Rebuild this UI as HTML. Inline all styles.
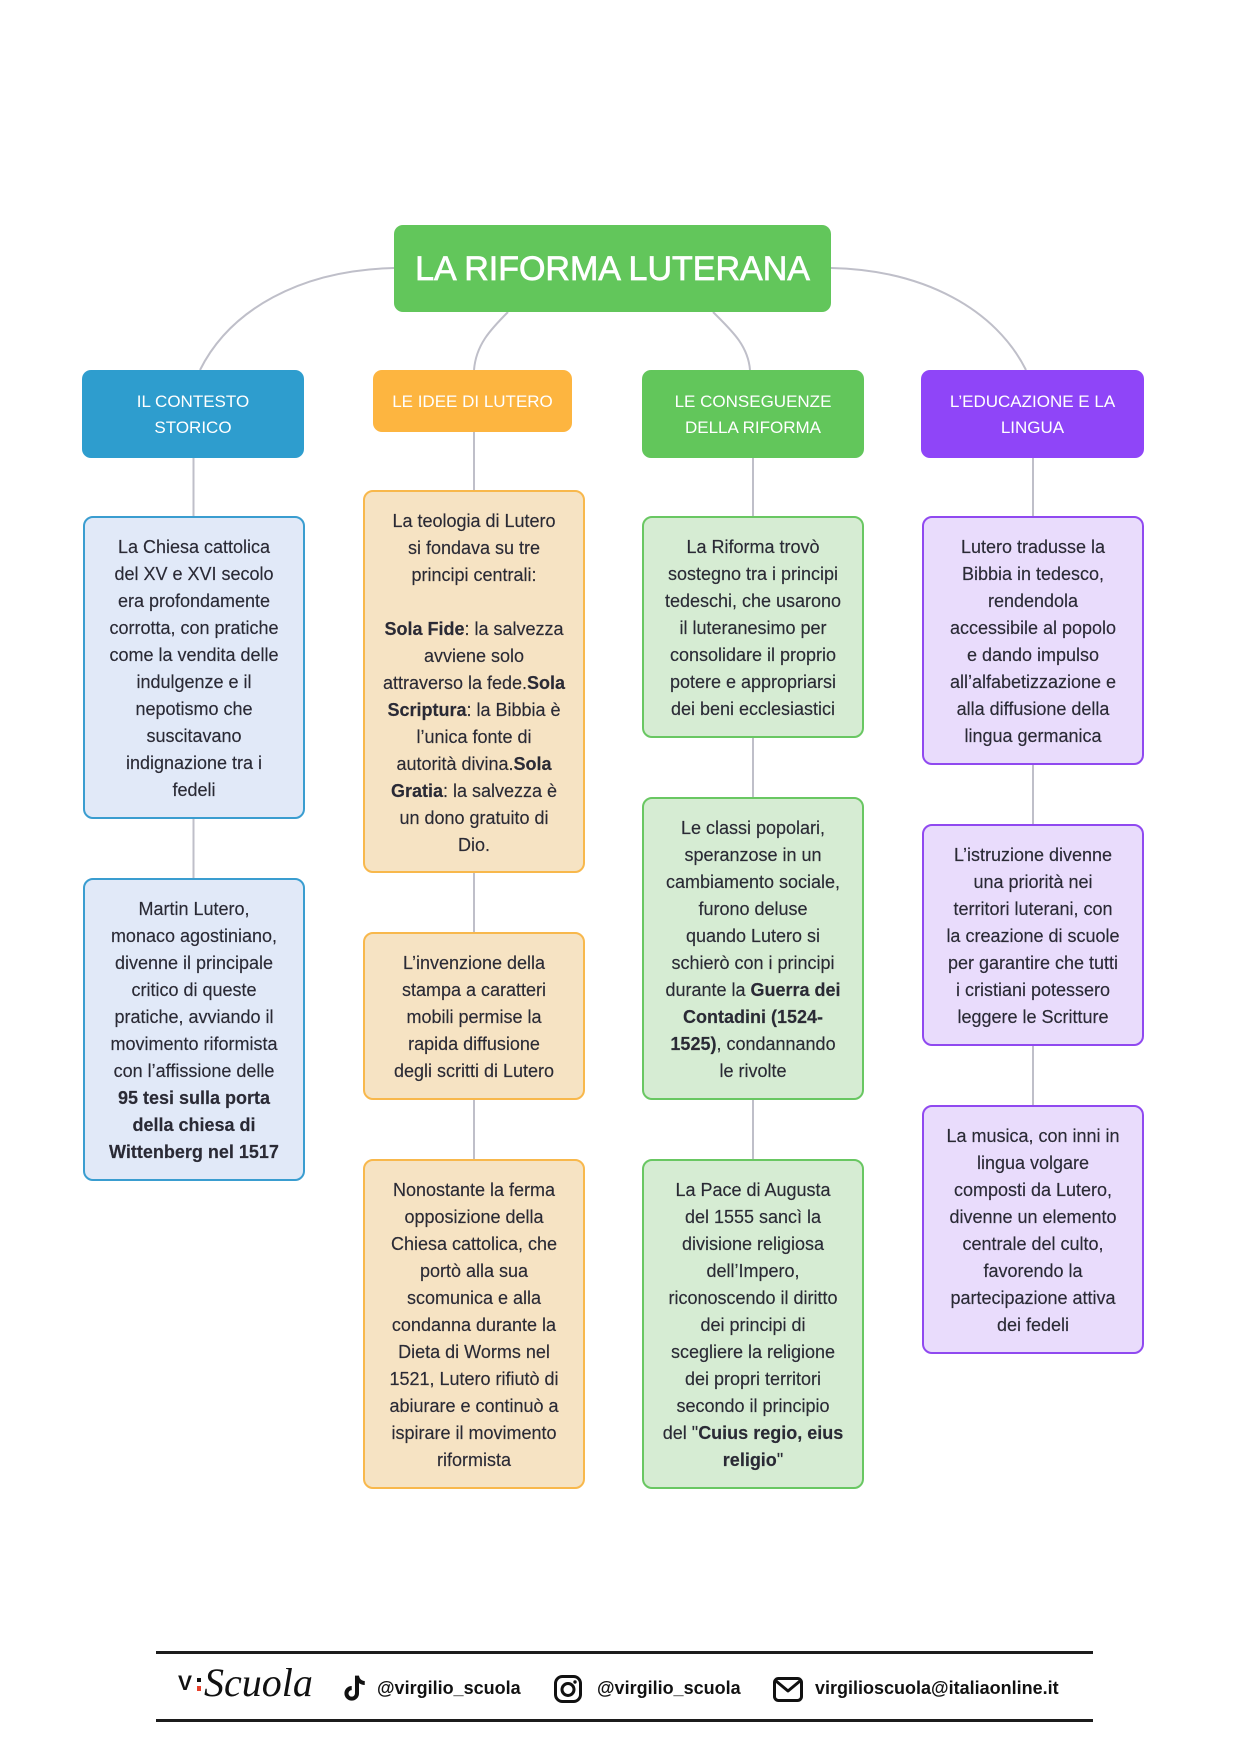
<!DOCTYPE html>
<html>
<head>
<meta charset="utf-8">
<style>
  html,body{margin:0;padding:0;background:#fff;}
  body{width:1240px;height:1754px;position:relative;overflow:hidden;font-family:"Liberation Sans",Arial,sans-serif;}
  .root{position:absolute;left:394px;top:225px;width:437px;height:87px;background:#62c65b;border-radius:9px;color:#fff;font-size:34px;display:flex;align-items:center;justify-content:center;white-space:nowrap;-webkit-text-stroke:0.7px #fff;padding-top:1px;box-sizing:border-box;}
  .cat{position:absolute;top:370px;border-radius:9px;color:#fff;font-size:17px;line-height:26.5px;display:flex;align-items:center;justify-content:center;text-align:center;white-space:nowrap;padding-top:2px;box-sizing:border-box;}
  .box{position:absolute;width:222px;box-sizing:border-box;border:2.5px solid;border-radius:10px;padding-top:15.5px;text-align:center;font-size:18px;line-height:27px;color:#2a2a35;white-space:nowrap;-webkit-text-stroke:0.15px #2a2a35;}
  .b{border-color:#3a9dd0;background:#e1e9f8;}
  .o{border-color:#f8b84c;background:#f6e3c3;}
  .g{border-color:#69c762;background:#d6ecd3;}
  .p{border-color:#9049f0;background:#e9dcfc;}
  .box strong{font-weight:bold;}
  .ft{position:absolute;top:1677px;font-size:18px;line-height:22px;font-weight:bold;color:#111;white-space:nowrap;}
  .hr{position:absolute;left:156px;width:937px;height:3px;background:#1c1c1c;}
</style>
</head>
<body>

<svg width="1240" height="1754" style="position:absolute;left:0;top:0" xmlns="http://www.w3.org/2000/svg">
  <g fill="none" stroke="#bfbfc9" stroke-width="2">
    <path d="M394,268 C300,270 230,310 200,370"/>
    <path d="M508,312 C490,330 476,345 474,370"/>
    <path d="M713,312 C731,330 748,345 750,370"/>
    <path d="M831,268 C925,270 996,310 1026,370"/>
    <line x1="193.5" y1="458" x2="193.5" y2="516"/>
    <line x1="193.5" y1="819" x2="193.5" y2="878"/>
    <line x1="474" y1="432" x2="474" y2="490"/>
    <line x1="474" y1="873" x2="474" y2="932"/>
    <line x1="474" y1="1100" x2="474" y2="1159"/>
    <line x1="753" y1="458" x2="753" y2="516"/>
    <line x1="753" y1="738" x2="753" y2="797"/>
    <line x1="753" y1="1100" x2="753" y2="1159"/>
    <line x1="1033" y1="458" x2="1033" y2="516"/>
    <line x1="1033" y1="765" x2="1033" y2="824"/>
    <line x1="1033" y1="1046" x2="1033" y2="1105"/>
  </g>
</svg>

<div class="root">LA RIFORMA LUTERANA</div>

<div class="cat" style="left:82px;width:222px;height:88px;background:#2e9dce;">IL CONTESTO<br>STORICO</div>
<div class="cat" style="left:373px;width:199px;height:62px;background:#fdb540;">LE IDEE DI LUTERO</div>
<div class="cat" style="left:642px;width:222px;height:88px;background:#62c65b;">LE CONSEGUENZE<br>DELLA RIFORMA</div>
<div class="cat" style="left:921px;width:223px;height:88px;background:#8f45f8;">L’EDUCAZIONE E LA<br>LINGUA</div>

<!-- Column 1 -->
<div class="box b" style="left:83px;top:516px;height:303px;">La Chiesa cattolica<br>del XV e XVI secolo<br>era profondamente<br>corrotta, con pratiche<br>come la vendita delle<br>indulgenze e il<br>nepotismo che<br>suscitavano<br>indignazione tra i<br>fedeli</div>
<div class="box b" style="left:83px;top:878px;height:303px;">Martin Lutero,<br>monaco agostiniano,<br>divenne il principale<br>critico di queste<br>pratiche, avviando il<br>movimento riformista<br>con l’affissione delle<br><strong>95 tesi sulla porta</strong><br><strong>della chiesa di</strong><br><strong>Wittenberg nel 1517</strong></div>

<!-- Column 2 -->
<div class="box o" style="left:363px;top:490px;height:383px;">La teologia di Lutero<br>si fondava su tre<br>principi centrali:<br><br><strong>Sola Fide</strong>: la salvezza<br>avviene solo<br>attraverso la fede.<strong>Sola</strong><br><strong>Scriptura</strong>: la Bibbia è<br>l’unica fonte di<br>autorità divina.<strong>Sola</strong><br><strong>Gratia</strong>: la salvezza è<br>un dono gratuito di<br>Dio.</div>
<div class="box o" style="left:363px;top:932px;height:168px;">L’invenzione della<br>stampa a caratteri<br>mobili permise la<br>rapida diffusione<br>degli scritti di Lutero</div>
<div class="box o" style="left:363px;top:1159px;height:330px;">Nonostante la ferma<br>opposizione della<br>Chiesa cattolica, che<br>portò alla sua<br>scomunica e alla<br>condanna durante la<br>Dieta di Worms nel<br>1521, Lutero rifiutò di<br>abiurare e continuò a<br>ispirare il movimento<br>riformista</div>

<!-- Column 3 -->
<div class="box g" style="left:642px;top:516px;height:222px;">La Riforma trovò<br>sostegno tra i principi<br>tedeschi, che usarono<br>il luteranesimo per<br>consolidare il proprio<br>potere e appropriarsi<br>dei beni ecclesiastici</div>
<div class="box g" style="left:642px;top:797px;height:303px;">Le classi popolari,<br>speranzose in un<br>cambiamento sociale,<br>furono deluse<br>quando Lutero si<br>schierò con i principi<br>durante la <strong>Guerra dei</strong><br><strong>Contadini (1524-</strong><br><strong>1525)</strong>, condannando<br>le rivolte</div>
<div class="box g" style="left:642px;top:1159px;height:330px;">La Pace di Augusta<br>del 1555 sancì la<br>divisione religiosa<br>dell’Impero,<br>riconoscendo il diritto<br>dei principi di<br>scegliere la religione<br>dei propri territori<br>secondo il principio<br>del "<strong>Cuius regio, eius</strong><br><strong>religio</strong>"</div>

<!-- Column 4 -->
<div class="box p" style="left:922px;top:516px;height:249px;">Lutero tradusse la<br>Bibbia in tedesco,<br>rendendola<br>accessibile al popolo<br>e dando impulso<br>all’alfabetizzazione e<br>alla diffusione della<br>lingua germanica</div>
<div class="box p" style="left:922px;top:824px;height:222px;">L’istruzione divenne<br>una priorità nei<br>territori luterani, con<br>la creazione di scuole<br>per garantire che tutti<br>i cristiani potessero<br>leggere le Scritture</div>
<div class="box p" style="left:922px;top:1105px;height:249px;">La musica, con inni in<br>lingua volgare<br>composti da Lutero,<br>divenne un elemento<br>centrale del culto,<br>favorendo la<br>partecipazione attiva<br>dei fedeli</div>

<!-- Footer -->
<div class="hr" style="top:1651px;"></div>
<div class="hr" style="top:1719px;"></div>

<div style="position:absolute;left:178px;top:1672px;font-size:21px;line-height:24px;font-weight:bold;color:#111;">V</div>
<div style="position:absolute;left:197px;top:1678px;width:4px;height:4px;background:#111;"></div>
<div style="position:absolute;left:197px;top:1686px;width:4px;height:5px;background:#e8402a;"></div>
<div style="position:absolute;left:204px;top:1660px;font-family:'Liberation Serif',serif;font-style:italic;font-size:40px;line-height:46px;color:#111;">Scuola</div>

<svg style="position:absolute;left:343px;top:1675px" width="23" height="28" viewBox="0 0 24 28" xmlns="http://www.w3.org/2000/svg">
  <path d="M12.5 0 h4.2 c0.4 3.2 2.6 5.4 6 5.6 v4.2 c-2.3 0-4.3-0.7-6-1.9 v10.6 a7.6 7.6 0 1 1 -7.6 -7.6 v4.3 a3.4 3.4 0 1 0 3.4 3.4 z" fill="#111"/>
</svg>
<div class="ft" style="left:377px;">@virgilio_scuola</div>

<svg style="position:absolute;left:554px;top:1675px" width="28" height="28" viewBox="0 0 28 28" xmlns="http://www.w3.org/2000/svg">
  <rect x="1.5" y="1.5" width="25" height="25" rx="7" fill="none" stroke="#111" stroke-width="3"/>
  <circle cx="14" cy="14.5" r="6" fill="none" stroke="#111" stroke-width="3"/>
  <circle cx="21" cy="7" r="1.7" fill="#111"/>
</svg>
<div class="ft" style="left:597px;">@virgilio_scuola</div>

<svg style="position:absolute;left:773px;top:1677px" width="30" height="25" viewBox="0 0 30 25" xmlns="http://www.w3.org/2000/svg">
  <rect x="1.5" y="1.5" width="27" height="22" rx="4" fill="none" stroke="#111" stroke-width="3"/>
  <polyline points="3,4 15,14 27,4" fill="none" stroke="#111" stroke-width="3" stroke-linejoin="round"/>
</svg>
<div class="ft" style="left:815px;">virgilioscuola@italiaonline.it</div>

</body>
</html>
